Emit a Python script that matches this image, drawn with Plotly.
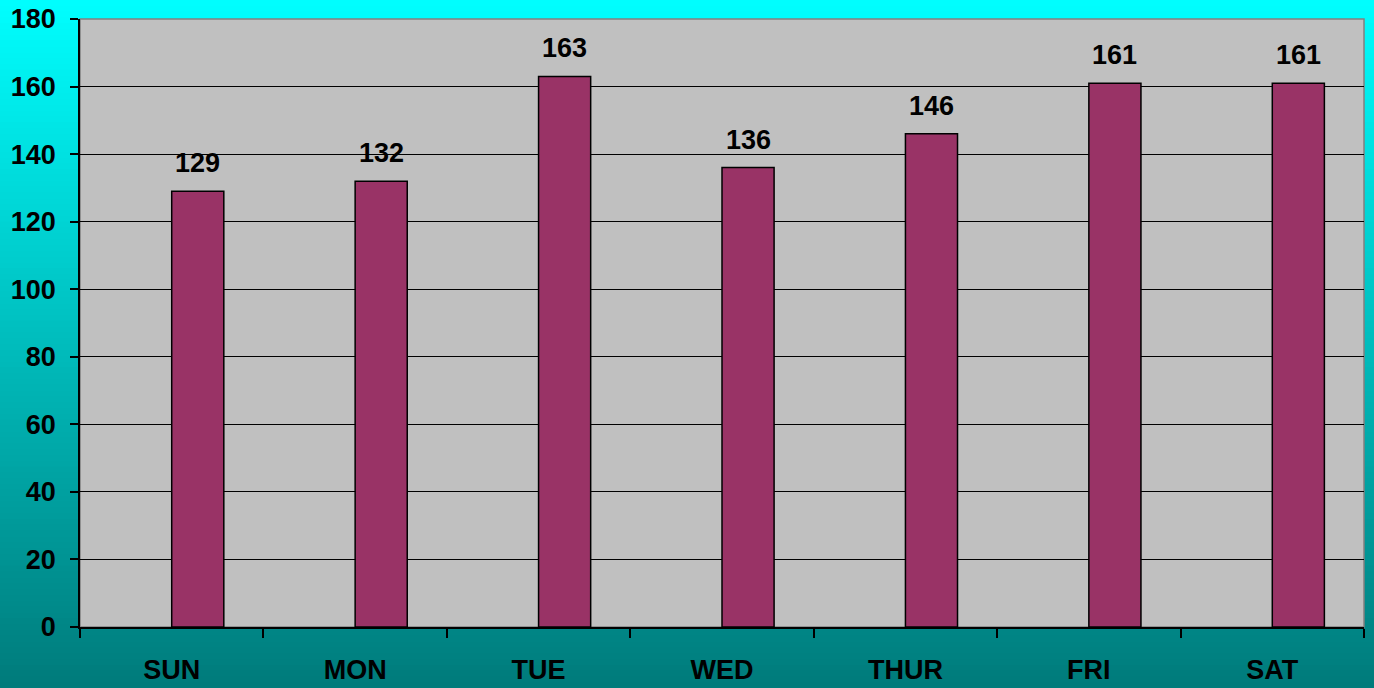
import plotly.graph_objects as go

days = ["SUN", "MON", "TUE", "WED", "THUR", "FRI", "SAT"]
counts = [129, 132, 163, 136, 146, 161, 161]
y_ticks = [0, 20, 40, 60, 80, 100, 120, 140, 160, 180]

W, H = 1374, 688
ml, mr, mt, mb = 80, 10, 19, 61
pw, ph = W - ml - mr, H - mt - mb

FONT = "Liberation Sans, Arial, sans-serif"
FS = 27

fig = go.Figure()
fig.add_trace(go.Bar(
    x=days, y=counts,
    width=0.284, offset=0,
    marker=dict(color="#993366", line=dict(color="black", width=1.5)),
    hoverinfo="x+y",
))

# value labels above bars
for d, v in zip(days, counts):
    fig.add_annotation(x=d, y=v, text=f"<b>{v}</b>", showarrow=False,
                       xshift=26, yshift=28, yanchor="middle",
                       font=dict(family=FONT, size=FS, color="black"))

# gradient background strips (whole figure)
n = 120
top = (0, 255, 255)
bot = (0, 122, 122)
y_top = (mt + ph) / ph + 0.01
y_bot = -(mb) / ph - 0.01
x_l = -ml / pw - 0.01
x_r = (pw + mr) / pw + 0.01
for i in range(n):
    t = i / (n - 1)
    c = tuple(int(round(top[k] + (bot[k] - top[k]) * t)) for k in range(3))
    y1 = y_top - (y_top - y_bot) * i / n
    y0 = y_top - (y_top - y_bot) * (i + 1) / n - 0.002
    fig.add_shape(type="rect", xref="paper", yref="paper",
                  x0=x_l, x1=x_r, y0=y0, y1=y1, layer="below",
                  line=dict(width=0), fillcolor=f"rgb{c}")
# plot area
fig.add_shape(type="rect", xref="paper", yref="paper", x0=0, x1=1, y0=0, y1=1,
              layer="below", fillcolor="#C0C0C0", line=dict(color="#808080", width=1.5))

fig.update_layout(
    width=W, height=H,
    margin=dict(l=ml, r=mr, t=mt, b=mb, pad=0, autoexpand=False),
    paper_bgcolor="#008080",
    plot_bgcolor="rgba(0,0,0,0)",
    showlegend=False,
    font=dict(family=FONT, size=FS, color="black"),
    xaxis=dict(
        type="category", tickson="boundaries", ticks="outside", ticklen=9,
        tickcolor="black", tickwidth=1.5, showline=True, linecolor="black", linewidth=1.5,
        showgrid=False, tickfont=dict(family=FONT, size=FS, color="black"),
        ticklabelstandoff=18, range=[-0.5, 6.5], automargin=False,
    ),
    yaxis=dict(
        range=[0, 180], tickvals=y_ticks, ticktext=[f"<b>{v}</b>" for v in y_ticks],
        ticks="outside", ticklen=8, tickcolor="black", tickwidth=1.5,
        showline=True, linecolor="black", linewidth=1.5,
        showgrid=True, gridcolor="black", gridwidth=1, zeroline=False,
        tickfont=dict(family=FONT, size=FS, color="black"), ticklabelstandoff=9,
        automargin=False,
    ),
)
fig.update_xaxes(ticktext=[f"<b>{d}</b>" for d in days], tickvals=days)

fig.write_html("out.html", config={"displayModeBar": False},
               post_script="document.body.style.margin='0';document.body.style.overflow='hidden';")
